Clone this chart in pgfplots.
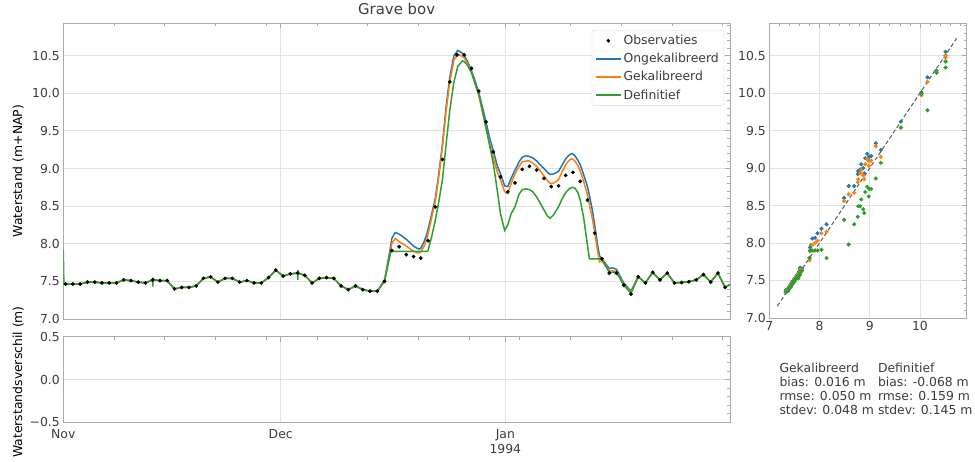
\documentclass[border=0pt]{standalone}
\usepackage{pgfplots}
\usepackage{pgfplotstable}
\pgfplotsset{compat=1.18}
\usepackage{fontspec}
\setmainfont{DejaVu Sans}
\definecolor{cB}{HTML}{1F77B4}
\definecolor{cO}{HTML}{FF7F0E}
\definecolor{cG}{HTML}{2CA02C}
\definecolor{spine}{HTML}{AAAAAA}
\definecolor{gridc}{HTML}{E2E2E2}
\definecolor{txt}{HTML}{3C3C3C}
\newcommand\fs{\fontsize{12.4pt}{14.3pt}\selectfont}

\pgfplotstableread{
d v
0.33 7.465
1.33 7.465
2.33 7.465
3.33 7.49
4.33 7.49
5.33 7.48
6.33 7.48
7.33 7.48
8.33 7.52
9.33 7.51
10.33 7.49
11.33 7.48
12.33 7.52
13.33 7.51
14.33 7.51
15.33 7.40
16.33 7.42
17.33 7.42
18.33 7.44
19.33 7.54
20.33 7.56
21.33 7.49
22.33 7.54
23.33 7.54
24.33 7.49
25.33 7.51
26.33 7.48
27.33 7.48
28.33 7.55
29.33 7.65
30.33 7.57
31.33 7.60
32.33 7.61
33.33 7.58
34.33 7.48
35.33 7.54
36.33 7.55
37.33 7.54
38.33 7.44
39.33 7.39
40.33 7.44
41.33 7.39
42.33 7.37
43.33 7.37
44.33 7.50
45.33 7.91
46.33 7.96
47.33 7.855
48.33 7.83
49.33 7.81
50.33 8.04
51.33 8.49
52.33 9.12
53.33 10.15
54.33 10.51
55.33 10.51
56.33 10.33
57.33 10.03
58.33 9.62
59.33 9.22
60.33 8.89
61.33 8.69
62.33 8.81
63.33 8.99
64.33 9.03
65.33 8.98
66.33 8.87
67.33 8.76
68.33 8.77
69.33 8.91
70.33 8.95
71.33 8.83
72.33 8.58
73.33 8.14
74.33 7.80
75.33 7.61
76.33 7.61
77.33 7.45
78.33 7.33
79.33 7.56
80.33 7.48
81.33 7.62
82.33 7.52
83.33 7.61
84.33 7.48
85.33 7.485
86.33 7.495
87.33 7.52
88.33 7.59
89.33 7.49
90.33 7.61
91.33 7.42
}\obs

\pgfplotstableread{
d B O G
0 7.465 7.465 7.92
0.08 7.465 7.465 7.465
0.33 7.465 7.465 7.465
1.33 7.465 7.465 7.465
2.33 7.465 7.465 7.465
3.33 7.49 7.49 7.49
4.33 7.49 7.49 7.49
5.33 7.48 7.48 7.48
6.33 7.48 7.48 7.48
7.33 7.48 7.48 7.48
8.33 7.52 7.52 7.52
9.33 7.51 7.51 7.51
10.33 7.49 7.49 7.49
11.33 7.48 7.48 7.48
12.33 7.52 7.52 7.52
12.36 7.52 7.52 7.43
12.40 7.52 7.52 7.55
12.45 7.52 7.52 7.52
13.33 7.51 7.51 7.51
14.33 7.51 7.51 7.51
15.33 7.40 7.40 7.40
16.33 7.42 7.42 7.42
17.33 7.42 7.42 7.42
18.33 7.44 7.44 7.44
19.33 7.54 7.54 7.54
20.33 7.56 7.56 7.56
21.33 7.49 7.49 7.49
22.33 7.54 7.54 7.54
23.33 7.54 7.54 7.54
24.33 7.49 7.49 7.49
25.33 7.51 7.51 7.51
26.33 7.48 7.48 7.48
27.33 7.48 7.48 7.48
28.33 7.55 7.55 7.55
29.33 7.65 7.65 7.65
30.33 7.57 7.57 7.57
31.33 7.60 7.60 7.60
32.33 7.61 7.61 7.61
32.36 7.61 7.61 7.52
32.40 7.61 7.61 7.65
32.45 7.61 7.61 7.61
33.33 7.58 7.58 7.58
34.33 7.48 7.48 7.48
35.33 7.54 7.54 7.54
36.33 7.55 7.55 7.55
37.33 7.54 7.54 7.54
38.33 7.44 7.44 7.44
39.33 7.39 7.39 7.39
40.33 7.44 7.44 7.44
41.33 7.39 7.39 7.39
42.33 7.37 7.37 7.37
43.33 7.37 7.37 7.37
44.33 7.52 7.51 7.50
45.2 7.98 7.92 7.90
45.33 8.07 8.00 7.90
45.8 8.15 8.07 7.90
46.33 8.13 8.03 7.90
47.33 8.06 7.97 7.90
48.33 7.97 7.90 7.90
48.8 7.94 7.88 7.90
49.1 7.93 7.88 7.90
49.33 7.94 7.89 7.90
49.8 8.03 7.97 7.90
50.2 8.14 8.08 7.90
50.33 8.19 8.13 7.91
50.8 8.38 8.33 8.08
51.33 8.60 8.56 8.31
51.8 8.92 8.88 8.55
52.33 9.33 9.29 8.86
52.8 9.80 9.74 9.30
53.33 10.21 10.15 9.77
53.9 10.50 10.44 10.15
54.45 10.57 10.52 10.36
55.1 10.53 10.49 10.43
55.33 10.50 10.47 10.42
55.8 10.42 10.39 10.37
56.33 10.30 10.28 10.27
56.8 10.17 10.13 10.14
57.33 10.01 9.97 9.99
57.8 9.83 9.77 9.79
58.33 9.62 9.54 9.54
58.8 9.42 9.34 9.32
59.33 9.24 9.15 9.07
59.9 9.03 8.95 8.70
60.33 8.93 8.85 8.40
60.9 8.77 8.69 8.18
61.33 8.76 8.67 8.25
61.8 8.87 8.80 8.40
62.33 8.98 8.93 8.49
62.9 9.09 9.03 8.66
63.33 9.15 9.09 8.72
63.9 9.17 9.10 8.73
64.33 9.16 9.10 8.72
64.8 9.14 9.07 8.69
65.33 9.10 9.03 8.62
65.8 9.05 8.97 8.54
66.33 9.00 8.90 8.45
66.8 8.95 8.84 8.37
67.2 8.92 8.80 8.34
67.7 8.93 8.81 8.39
68.33 8.96 8.85 8.49
68.8 9.04 8.95 8.59
69.33 9.13 9.05 8.68
69.8 9.18 9.11 8.73
70.2 9.20 9.13 8.75
70.6 9.17 9.10 8.74
71.0 9.11 9.04 8.68
71.33 9.05 8.97 8.58
71.8 8.92 8.83 8.35
72.33 8.76 8.65 7.98
72.6 8.64 8.52 7.80
73.0 8.45 8.34 7.80
73.33 8.25 8.15 7.80
73.7 8.00 7.92 7.80
74.0 7.84 7.76 7.80
74.33 7.80 7.77 7.80
75.33 7.67 7.64 7.62
75.8 7.68 7.64 7.62
76.33 7.66 7.63 7.62
77.33 7.48 7.46 7.45
78.33 7.37 7.35 7.34
79.33 7.56 7.56 7.56
80.33 7.48 7.48 7.48
81.33 7.62 7.62 7.62
82.33 7.52 7.52 7.52
83.33 7.61 7.61 7.61
84.33 7.48 7.48 7.48
85.33 7.485 7.485 7.485
86.33 7.495 7.495 7.495
87.33 7.52 7.52 7.52
88.33 7.59 7.59 7.59
89.33 7.49 7.49 7.49
90.33 7.61 7.61 7.61
91.33 7.42 7.42 7.42
92 7.46 7.46 7.46
}\model

\pgfplotstableread{
x B O G
7.465 7.48 7.47 7.46
7.49 7.50 7.49 7.48
7.48 7.50 7.49 7.47
7.52 7.53 7.52 7.51
7.51 7.53 7.52 7.50
7.40 7.42 7.41 7.40
7.42 7.44 7.43 7.41
7.44 7.46 7.45 7.43
7.54 7.56 7.55 7.53
7.56 7.58 7.57 7.55
7.55 7.57 7.56 7.54
7.65 7.66 7.64 7.63
7.57 7.59 7.58 7.56
7.60 7.62 7.61 7.57
7.61 7.63 7.62 7.58
7.58 7.60 7.59 7.53
7.39 7.41 7.40 7.38
7.37 7.39 7.38 7.36
7.62 7.64 7.62 7.61
7.485 7.50 7.49 7.48
7.495 7.51 7.50 7.49
7.59 7.61 7.60 7.58
7.50 7.52 7.51 7.50
7.91 8.07 8.00 7.90
7.96 8.13 8.03 7.90
7.855 8.06 7.97 7.90
7.83 7.97 7.90 7.90
7.81 7.94 7.89 7.90
8.04 8.19 8.13 7.91
8.49 8.60 8.56 8.31
9.12 9.33 9.29 8.86
10.15 10.21 10.15 9.77
10.51 10.55 10.50 10.34
10.51 10.50 10.47 10.42
10.33 10.30 10.28 10.27
10.03 10.01 9.97 9.99
9.62 9.62 9.54 9.54
9.22 9.24 9.15 9.07
8.89 8.93 8.85 8.40
8.69 8.76 8.67 8.25
8.81 8.98 8.93 8.49
8.99 9.15 9.09 8.72
9.03 9.16 9.10 8.72
8.98 9.10 9.03 8.62
8.87 9.00 8.90 8.45
8.76 8.92 8.81 8.35
8.77 8.96 8.85 8.49
8.91 9.13 9.05 8.68
8.95 9.19 9.12 8.75
8.83 9.05 8.97 8.58
8.58 8.76 8.65 7.98
8.14 8.25 8.15 7.80
7.80 7.80 7.77 7.80
7.61 7.67 7.64 7.62
7.61 7.66 7.63 7.62
7.45 7.48 7.46 7.45
7.33 7.37 7.35 7.34
}\scat

\pgfplotsset{
  base/.style={
    scale only axis,
    axis line style={spine, line width=0.8pt},
    tick style={spine, line width=0.8pt},
    tick align=inside,
    major tick length=5pt,
    minor tick length=3pt,
    xtick pos=right, ytick pos=right,
    xticklabel pos=left, yticklabel pos=left,
    grid=major,
    grid style={gridc, line width=0.9pt},
    font=\fs,
    tick label style={font=\fs, text=txt},
    label style={font=\fs, text=txt},
    /pgf/number format/assume math mode=true,
    every axis y label/.style={at={(axis description cs:0,0.5)}, xshift=-45pt, rotate=90, anchor=center},
  },
  legend image code/.code={\draw[mark repeat=2,mark phase=2,#1] plot coordinates {(0pt,0pt) (12.5pt,0pt) (25pt,0pt)};},
}

\begin{document}
\begin{tikzpicture}
\useasboundingbox (0pt,0pt) rectangle (975pt,461pt);

% main time series
\begin{axis}[base,
  at={(63.3pt,142pt)}, anchor=south west,
  width=666.7pt, height=295.7pt,
  xmin=0, xmax=92, ymin=7, ymax=10.93,
  xtick={0,30,61}, xticklabels={},
  minor xtick={7,14,21,28,35,42,49,56,63,70,77,84,91},
  ytick={7,7.5,8,8.5,9,9.5,10,10.5},
  minor ytick={7.1,7.2,7.3,7.4,7.6,7.7,7.8,7.9,8.1,8.2,8.3,8.4,8.6,8.7,8.8,8.9,9.1,9.2,9.3,9.4,9.6,9.7,9.8,9.9,10.1,10.2,10.3,10.4,10.6,10.7,10.8,10.9},
  yticklabel style={/pgf/number format/.cd, fixed, fixed zerofill, precision=1},
  title={Grave bov},
  title style={at={(axis description cs:0.5,1)}, anchor=base, yshift=2.7pt, font=\fontsize{14.9pt}{16pt}\selectfont, text=txt},
  ylabel={Waterstand (m+NAP)},
  legend style={at={(axis description cs:0.991,0.977)}, anchor=north east, draw=gray!30, rounded corners=2pt, fill=white, font=\fs, text=txt, row sep=3.2pt, inner sep=3pt},
  legend cell align=left,
]
\addlegendimage{only marks, mark=*, mark size=1.7pt, black}
\addlegendentry{Observaties}
\addplot[cB, line width=1.5pt, no marks] table[x=d, y=B] {\model};
\addlegendentry{Ongekalibreerd}
\addplot[cO, line width=1.5pt, no marks] table[x=d, y=O] {\model};
\addlegendentry{Gekalibreerd}
\addplot[cG, line width=1.5pt, no marks] table[x=d, y=G] {\model};
\addlegendentry{Definitief}
\addplot[only marks, mark=*, mark size=1.7pt, black, forget plot] table[x=d, y=v] {\obs};
\end{axis}

% difference panel
\begin{axis}[base,
  at={(63.3pt,38.7pt)}, anchor=south west,
  width=666.7pt, height=85.6pt,
  xmin=0, xmax=92, ymin=-0.5, ymax=0.5,
  xtick={0,30,61}, xticklabels={Nov,Dec,{Jan\\1994}},
  xticklabel style={align=center, yshift=-4pt},
  minor xtick={7,14,21,28,35,42,49,56,63,70,77,84,91},
  ytick={-0.5,0,0.5}, yticklabels={−0.5,0.0,0.5},
  minor ytick={-0.4,-0.3,-0.2,-0.1,0.1,0.2,0.3,0.4},
  ylabel={Waterstandsverschil (m)},
  every axis y label/.append style={xshift=-2.5pt},
]
\addplot[draw=none, forget plot] coordinates {(0,0)};
\end{axis}

% scatter
\begin{axis}[base,
  at={(769.3pt,143pt)}, anchor=south west,
  width=197.4pt, height=294.7pt,
  xmin=7, xmax=10.93, ymin=7, ymax=10.93,
  xtick={7,8,9,10},
  minor xtick={7.2,7.4,7.6,7.8,8.2,8.4,8.6,8.8,9.2,9.4,9.6,9.8,10.2,10.4,10.6,10.8},
  ytick={7,7.5,8,8.5,9,9.5,10,10.5},
  minor ytick={7.1,7.2,7.3,7.4,7.6,7.7,7.8,7.9,8.1,8.2,8.3,8.4,8.6,8.7,8.8,8.9,9.1,9.2,9.3,9.4,9.6,9.7,9.8,9.9,10.1,10.2,10.3,10.4,10.6,10.7,10.8,10.9},
  yticklabel style={/pgf/number format/.cd, fixed, fixed zerofill, precision=1},
]
\addplot[only marks, mark=*, mark size=1.9pt, cB, mark options={draw=none, fill=cB}] table[x=x, y=B] {\scat};
\addplot[only marks, mark=*, mark size=1.9pt, cO, mark options={draw=none, fill=cO}] table[x=x, y=O] {\scat};
\addplot[only marks, mark=*, mark size=1.9pt, cG, mark options={draw=none, fill=cG}] table[x=x, y=G] {\scat};
\addplot[black!65, dashed, dash pattern=on 4pt off 2.5pt, line width=1pt] coordinates {(7.16,7.16) (10.73,10.73)};
\end{axis}

% statistics
\begin{scope}[every node/.style={anchor=base west, inner sep=0pt, font=\fs, text=txt}]
\node at (779.3pt,88.7pt) {Gekalibreerd};
\node at (779.3pt,74.7pt) {bias: 0.016 m};
\node at (779.3pt,60.7pt) {rmse: 0.050 m};
\node at (779.3pt,46.7pt) {stdev: 0.048 m};
\node at (877.8pt,88.7pt) {Definitief};
\node at (877.8pt,74.7pt) {bias: -0.068 m};
\node at (877.8pt,60.7pt) {rmse: 0.159 m};
\node at (877.8pt,46.7pt) {stdev: 0.145 m};
\end{scope}
\end{tikzpicture}
\end{document}
